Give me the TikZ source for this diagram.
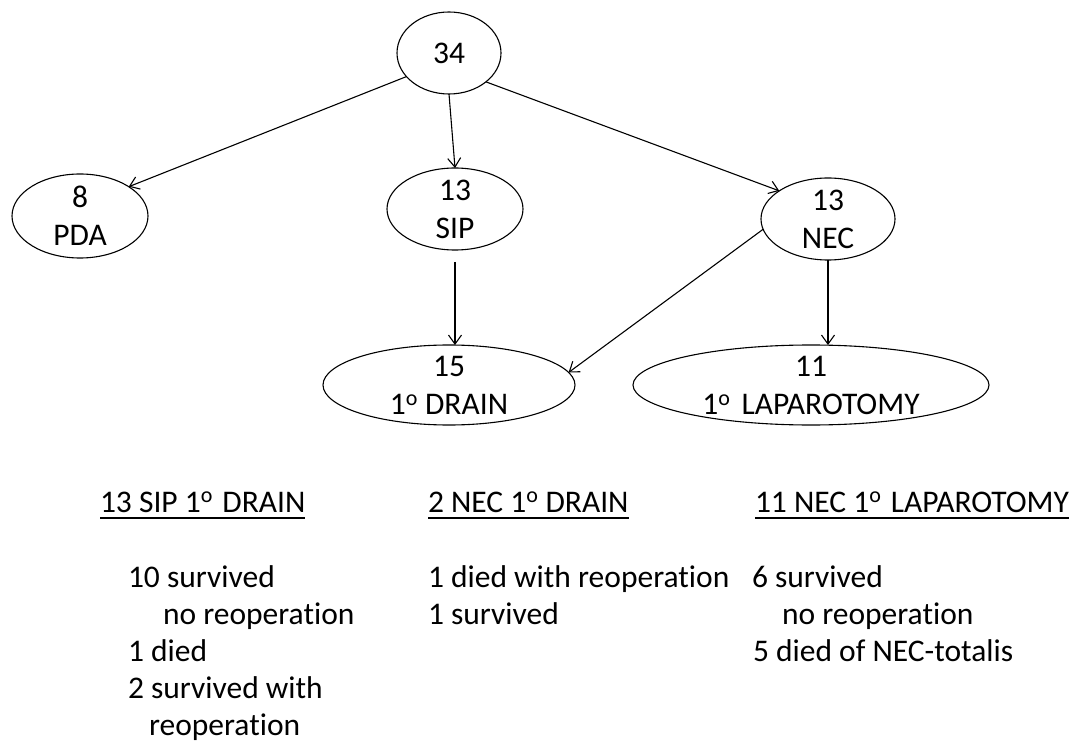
\documentclass[tikz,border=0pt]{standalone}
\usepackage{fontspec}
\setmainfont{Carlito}[Ligatures=NoCommon]
\usetikzlibrary{arrows.meta,shapes.geometric}
\begin{document}
\begin{tikzpicture}[x=1pt,y=-1pt,
  every node/.style={font=\fontsize{31.5}{38}\selectfont, inner sep=0pt, outer sep=0pt},
  oval/.style 2 args={draw, ellipse, line width=1.1pt, minimum width=#1, minimum height=#2},
  conn/.style={line width=1.1pt, -{Straight Barb[length=9pt,width=13pt]}},
  txt/.style={anchor=base west},
  uline/.style={line width=1.6pt}
]
\useasboundingbox (0,0) rectangle (1071,743);

% ellipse nodes
\node[oval={104pt}{82pt}, label={[align=center]center:{34}}] (top) at (449,53) {};
\node[oval={136pt}{84pt}, label={[align=center]center:{8\\PDA}}] (pda) at (80,216) {};
\node[oval={136pt}{82pt}, label={[align=center]center:{13\\SIP}}] (sip) at (455,209) {};
\node[oval={134pt}{82pt}, label={[align=center]center:{13\\NEC}}] (nec) at (828,219) {};
\node[oval={252pt}{80pt}, label={[align=center]center:{15\\1\textsuperscript{o} DRAIN}}] (drain) at (449,385) {};
\node[oval={356pt}{80pt}, label={[align=center]center:{11\\1\textsuperscript{o}\hspace{0.35em}LAPAROTOMY}}] (lap) at (811,385) {};

% connectors
\draw[conn] (top.209) -- (pda.31);
\draw[conn] (top.south) -- (sip.north);
\draw[conn] (top.322) -- (nec.150);
\draw[conn, shorten <=12pt] (sip.south) -- (sip.south |- drain.north);
\draw[conn] (nec.189) -- (drain.6);
\draw[conn] (nec.south) -- (nec.south |- lap.north);

% headings
\node[txt] (h1) at (100,512) {13 SIP 1\textsuperscript{o}\hspace{0.3em}DRAIN};
\node[txt] (h2) at (428,512) {2 NEC 1\textsuperscript{o} DRAIN};
\node[txt] (h3) at (755,512) {11 NEC 1\textsuperscript{o}\hspace{0.3em}LAPAROTOMY};
\draw[uline] ([yshift=-6pt]h1.base west) -- ([yshift=-6pt]h1.base east);
\draw[uline] ([yshift=-6pt]h2.base west) -- ([yshift=-6pt]h2.base east);
\draw[uline] ([yshift=-6pt]h3.base west) -- ([yshift=-6pt]h3.base east);

% lists
\node[txt] (a1) at (128,587) {10 survived};
\node[txt] (a2) at (163,624) {no reoperation};
\node[txt] (a3) at (128,661) {1 died};
\node[txt] (a4) at (128,698) {2 survived with};
\node[txt] (a5) at (149,735) {reoperation};

\node[txt] (b1) at (428,587) {1 died with reoperation};
\node[txt] (b2) at (428,624) {1 survived};

\node[txt] (c1) at (752,587) {6 survived};
\node[txt] (c2) at (782,624) {no reoperation};
\node[txt] (c3) at (753,661) {5 died of NEC-totalis};
\end{tikzpicture}
\end{document}
